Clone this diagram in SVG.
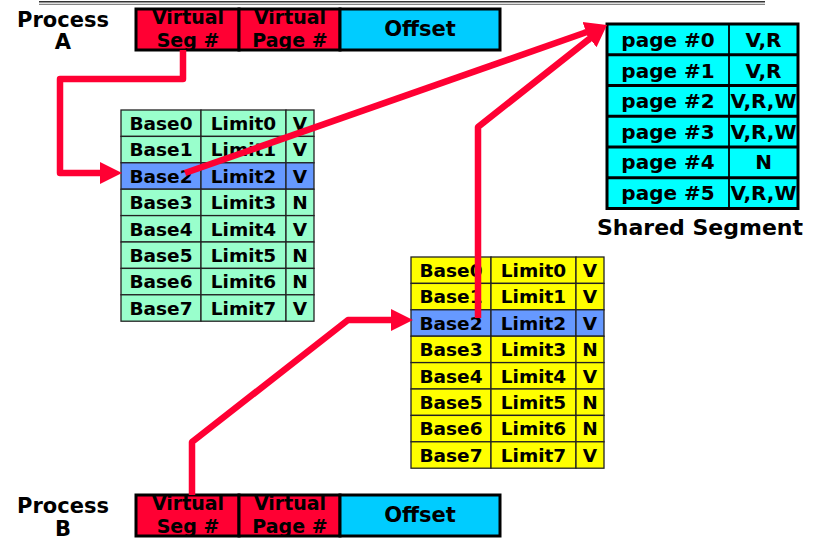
<svg xmlns="http://www.w3.org/2000/svg" width="821" height="541" viewBox="0 0 821 541">
<style>
  text { font-family: "DejaVu Sans", "Liberation Sans", sans-serif; font-weight: bold; fill: #000; text-anchor: middle; }
  .t18 { font-size: 18.5px; }
  .t20 { font-size: 20px; }
  .vt { font-size: 19px; }
  .lbl { font-size: 21px; }
  .box { stroke: #000; stroke-width: 3; }
  .red { fill: #ff0033; }
  .off { fill: #00ccff; }
  .grn { fill: #99ffcc; stroke: #222; stroke-width: 1.3; }
  .yel { fill: #ffff00; stroke: #222; stroke-width: 1.3; }
  .hil { fill: #6699ff; stroke: #222; stroke-width: 1.3; }
  .shr { fill: #00ffff; stroke: #000; stroke-width: 3; }
  .conn { fill: none; stroke: #ff0033; stroke-width: 6.5; stroke-linejoin: round; marker-end: url(#arr); }
</style>
<defs>
  <marker id="arr" markerUnits="userSpaceOnUse" markerWidth="24" markerHeight="24" refX="0" refY="11" orient="auto" viewBox="0 0 24 22">
    <path d="M0,0 L22,11 L0,22 z" fill="#ff0033"/>
  </marker>
</defs>
<rect width="821" height="541" fill="#fff"/>
<g id="topline">
  <line x1="39" y1="1.7" x2="765" y2="1.7" stroke="#333" stroke-width="1.4"/>
  <line x1="39" y1="4.3" x2="765" y2="4.3" stroke="#555" stroke-width="0.9"/>
</g>

<g id="processA">
  <text class="lbl" x="63" y="27">Process</text>
  <text class="lbl" x="63" y="49">A</text>
  <rect class="box red" x="136" y="9" width="103" height="41"/>
  <rect class="box red" x="239" y="9" width="101" height="41"/>
  <rect class="box off" x="340" y="9" width="160" height="41"/>
  <text class="vt" x="188" y="24">Virtual</text>
  <text class="vt" x="188" y="46.5">Seg #</text>
  <text class="vt" x="290" y="24">Virtual</text>
  <text class="vt" x="290" y="46.5">Page #</text>
  <text class="lbl" x="420" y="36">Offset</text>
</g>

<g id="processB">
  <text class="lbl" x="63" y="513">Process</text>
  <text class="lbl" x="63" y="536">B</text>
  <rect class="box red" x="136" y="495" width="103" height="41"/>
  <rect class="box red" x="239" y="495" width="101" height="41"/>
  <rect class="box off" x="340" y="495" width="160" height="41"/>
  <text class="vt" x="188" y="510">Virtual</text>
  <text class="vt" x="188" y="532.5">Seg #</text>
  <text class="vt" x="290" y="510">Virtual</text>
  <text class="vt" x="290" y="532.5">Page #</text>
  <text class="lbl" x="420" y="522">Offset</text>
</g>

<g id="segtableA">
  <rect class="grn" x="121" y="110" width="80" height="26.4"/><rect class="grn" x="201" y="110" width="85" height="26.4"/><rect class="grn" x="286" y="110" width="28" height="26.4"/>
  <rect class="grn" x="121" y="136.4" width="80" height="26.4"/><rect class="grn" x="201" y="136.4" width="85" height="26.4"/><rect class="grn" x="286" y="136.4" width="28" height="26.4"/>
  <rect class="hil" x="121" y="162.8" width="80" height="26.4"/><rect class="hil" x="201" y="162.8" width="85" height="26.4"/><rect class="hil" x="286" y="162.8" width="28" height="26.4"/>
  <rect class="grn" x="121" y="189.2" width="80" height="26.4"/><rect class="grn" x="201" y="189.2" width="85" height="26.4"/><rect class="grn" x="286" y="189.2" width="28" height="26.4"/>
  <rect class="grn" x="121" y="215.6" width="80" height="26.4"/><rect class="grn" x="201" y="215.6" width="85" height="26.4"/><rect class="grn" x="286" y="215.6" width="28" height="26.4"/>
  <rect class="grn" x="121" y="242" width="80" height="26.4"/><rect class="grn" x="201" y="242" width="85" height="26.4"/><rect class="grn" x="286" y="242" width="28" height="26.4"/>
  <rect class="grn" x="121" y="268.4" width="80" height="26.4"/><rect class="grn" x="201" y="268.4" width="85" height="26.4"/><rect class="grn" x="286" y="268.4" width="28" height="26.4"/>
  <rect class="grn" x="121" y="294.8" width="80" height="26.4"/><rect class="grn" x="201" y="294.8" width="85" height="26.4"/><rect class="grn" x="286" y="294.8" width="28" height="26.4"/>
  <text class="t18" x="161" y="130">Base0</text><text class="t18" x="243.5" y="130">Limit0</text><text class="t18" x="300" y="130">V</text>
  <text class="t18" x="161" y="156.4">Base1</text><text class="t18" x="243.5" y="156.4">Limit1</text><text class="t18" x="300" y="156.4">V</text>
  <text class="t18" x="161" y="182.8">Base2</text><text class="t18" x="243.5" y="182.8">Limit2</text><text class="t18" x="300" y="182.8">V</text>
  <text class="t18" x="161" y="209.2">Base3</text><text class="t18" x="243.5" y="209.2">Limit3</text><text class="t18" x="300" y="209.2">N</text>
  <text class="t18" x="161" y="235.6">Base4</text><text class="t18" x="243.5" y="235.6">Limit4</text><text class="t18" x="300" y="235.6">V</text>
  <text class="t18" x="161" y="262">Base5</text><text class="t18" x="243.5" y="262">Limit5</text><text class="t18" x="300" y="262">N</text>
  <text class="t18" x="161" y="288.4">Base6</text><text class="t18" x="243.5" y="288.4">Limit6</text><text class="t18" x="300" y="288.4">N</text>
  <text class="t18" x="161" y="314.8">Base7</text><text class="t18" x="243.5" y="314.8">Limit7</text><text class="t18" x="300" y="314.8">V</text>
</g>

<g id="segtableB">
  <rect class="yel" x="411" y="257" width="80" height="26.4"/><rect class="yel" x="491" y="257" width="85" height="26.4"/><rect class="yel" x="576" y="257" width="28" height="26.4"/>
  <rect class="yel" x="411" y="283.4" width="80" height="26.4"/><rect class="yel" x="491" y="283.4" width="85" height="26.4"/><rect class="yel" x="576" y="283.4" width="28" height="26.4"/>
  <rect class="hil" x="411" y="309.8" width="80" height="26.4"/><rect class="hil" x="491" y="309.8" width="85" height="26.4"/><rect class="hil" x="576" y="309.8" width="28" height="26.4"/>
  <rect class="yel" x="411" y="336.2" width="80" height="26.4"/><rect class="yel" x="491" y="336.2" width="85" height="26.4"/><rect class="yel" x="576" y="336.2" width="28" height="26.4"/>
  <rect class="yel" x="411" y="362.6" width="80" height="26.4"/><rect class="yel" x="491" y="362.6" width="85" height="26.4"/><rect class="yel" x="576" y="362.6" width="28" height="26.4"/>
  <rect class="yel" x="411" y="389" width="80" height="26.4"/><rect class="yel" x="491" y="389" width="85" height="26.4"/><rect class="yel" x="576" y="389" width="28" height="26.4"/>
  <rect class="yel" x="411" y="415.4" width="80" height="26.4"/><rect class="yel" x="491" y="415.4" width="85" height="26.4"/><rect class="yel" x="576" y="415.4" width="28" height="26.4"/>
  <rect class="yel" x="411" y="441.8" width="80" height="26.4"/><rect class="yel" x="491" y="441.8" width="85" height="26.4"/><rect class="yel" x="576" y="441.8" width="28" height="26.4"/>
  <text class="t18" x="451" y="277">Base0</text><text class="t18" x="533.5" y="277">Limit0</text><text class="t18" x="590" y="277">V</text>
  <text class="t18" x="451" y="303.4">Base1</text><text class="t18" x="533.5" y="303.4">Limit1</text><text class="t18" x="590" y="303.4">V</text>
  <text class="t18" x="451" y="329.8">Base2</text><text class="t18" x="533.5" y="329.8">Limit2</text><text class="t18" x="590" y="329.8">V</text>
  <text class="t18" x="451" y="356.2">Base3</text><text class="t18" x="533.5" y="356.2">Limit3</text><text class="t18" x="590" y="356.2">N</text>
  <text class="t18" x="451" y="382.6">Base4</text><text class="t18" x="533.5" y="382.6">Limit4</text><text class="t18" x="590" y="382.6">V</text>
  <text class="t18" x="451" y="409">Base5</text><text class="t18" x="533.5" y="409">Limit5</text><text class="t18" x="590" y="409">N</text>
  <text class="t18" x="451" y="435.4">Base6</text><text class="t18" x="533.5" y="435.4">Limit6</text><text class="t18" x="590" y="435.4">N</text>
  <text class="t18" x="451" y="461.8">Base7</text><text class="t18" x="533.5" y="461.8">Limit7</text><text class="t18" x="590" y="461.8">V</text>
</g>

<g id="sharedsegment">
  <rect class="shr" x="607" y="24" width="191" height="184.5"/>
  <g stroke="#000" stroke-width="3">
    <line x1="607" y1="54.75" x2="798" y2="54.75"/>
    <line x1="607" y1="85.5" x2="798" y2="85.5"/>
    <line x1="607" y1="116.25" x2="798" y2="116.25"/>
    <line x1="607" y1="147" x2="798" y2="147"/>
    <line x1="607" y1="177.75" x2="798" y2="177.75"/>
  </g>
  <line x1="729" y1="24" x2="729" y2="208.5" stroke="#000" stroke-width="1.8"/>
  <text class="t20" x="668" y="47">page #0</text><text class="t20" x="763.5" y="47">V,R</text>
  <text class="t20" x="668" y="77.5">page #1</text><text class="t20" x="763.5" y="77.5">V,R</text>
  <text class="t20" x="668" y="108">page #2</text><text class="t20" x="763.5" y="108">V,R,W</text>
  <text class="t20" x="668" y="138.5">page #3</text><text class="t20" x="763.5" y="138.5">V,R,W</text>
  <text class="t20" x="668" y="169">page #4</text><text class="t20" x="763.5" y="169">N</text>
  <text class="t20" x="668" y="200">page #5</text><text class="t20" x="763.5" y="200">V,R,W</text>
  <text x="700" y="235" style="font-size:22px">Shared Segment</text>
</g>

<g id="connectors">
  <path class="conn" d="M183,50 V79 H60 V173 H100"/>
  <path class="conn" d="M185,173 L586.2,32.3"/>
  <path class="conn" d="M478,318 V127 L589.7,38.6"/>
  <path class="conn" d="M192,495 V442 L348,320 H391"/>
</g>
</svg>
